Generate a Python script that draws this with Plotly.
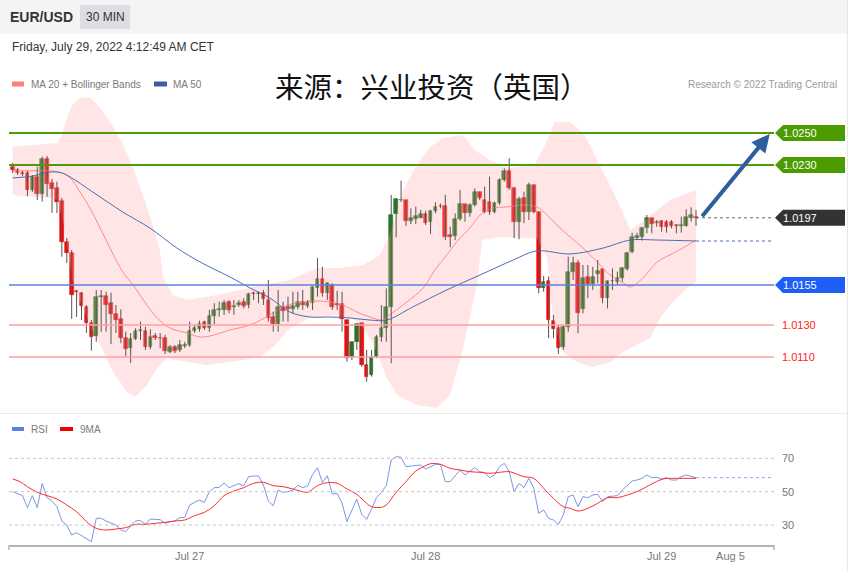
import plotly.graph_objects as go

# ---------------- data ----------------
OPEN = [1.02289,1.02269,1.02252,1.02252,1.02144,1.02227,1.02119,1.02338,1.02188,1.02156,
        1.02077,1.01821,1.01750,1.01513,1.01502,1.01414,1.01311,1.01231,1.01477,1.01481,
        1.01436,1.01369,1.01336,1.01217,1.01156,1.01213,1.01264,1.01264,1.01163,1.01231,
        1.01219,1.01219,1.01131,1.01163,1.01144,1.01169,1.01175,1.01263,1.01275,1.01320,
        1.01279,1.01356,1.01394,1.01394,1.01442,1.01414,1.01425,1.01446,1.01425,1.01498,
        1.01494,1.01502,1.01456,1.01348,1.01306,1.01411,1.01414,1.01398,1.01414,1.01446,
        1.01419,1.01436,1.01529,1.01588,1.01500,1.01550,1.01431,1.01431,1.01331,1.01102,
        1.01196,1.01311,1.01050,1.00988,1.01102,1.01223,1.01279,1.01414,1.01994,1.02081,
        1.02081,1.01952,1.01963,1.01967,1.01994,1.01946,1.02014,1.02044,1.02044,1.01863,
        1.01856,1.01961,1.02056,1.01998,1.02050,1.02130,1.02081,1.02071,1.02008,1.02060,
        1.02206,1.02264,1.02154,1.01946,1.02092,1.02008,1.02175,1.02008,1.01529,1.01575,
        1.01327,1.01279,1.01165,1.01290,1.01633,1.01686,1.01398,1.01598,1.01556,1.01619,
        1.01648,1.01467,1.01575,1.01571,1.01592,1.01648,1.01758,1.01842,1.01848,1.01904,
        1.01967,1.01938,1.01952,1.01946,1.01946,1.01925,1.01919,1.01919,1.01967,1.01973]
HIGH = [1.02313,1.02281,1.02263,1.02263,1.02238,1.02289,1.02352,1.02356,1.02213,1.02196,
        1.02094,1.01844,1.01769,1.01519,1.01506,1.01425,1.01331,1.01519,1.01519,1.01508,
        1.01502,1.01425,1.01398,1.01258,1.01250,1.01280,1.01321,1.01289,1.01273,1.01250,
        1.01250,1.01238,1.01175,1.01175,1.01206,1.01194,1.01321,1.01300,1.01327,1.01327,
        1.01394,1.01436,1.01446,1.01456,1.01456,1.01456,1.01456,1.01467,1.01502,1.01508,
        1.01508,1.01519,1.01581,1.01383,1.01519,1.01446,1.01477,1.01508,1.01508,1.01519,
        1.01456,1.01540,1.01719,1.01664,1.01565,1.01561,1.01514,1.01508,1.01331,1.01196,
        1.01311,1.01311,1.01144,1.01144,1.01238,1.01425,1.01529,1.02113,1.02092,1.02202,
        1.02081,1.02029,1.02040,1.02019,1.02014,1.02019,1.02067,1.02060,1.02113,1.01914,
        1.01998,1.02144,1.02056,1.02060,1.02154,1.02133,1.02165,1.02227,1.02071,1.02217,
        1.02279,1.02342,1.02160,1.02102,1.02133,1.02190,1.02175,1.02008,1.01606,1.01602,
        1.01363,1.01300,1.01300,1.01727,1.01727,1.01706,1.01675,1.01675,1.01664,1.01706,
        1.01648,1.01577,1.01654,1.01633,1.01661,1.01758,1.01877,1.01877,1.01914,1.01988,
        1.01967,1.01956,1.01956,1.01956,1.01956,1.01931,1.01977,1.02023,1.02036,1.02019]
LOW = [1.02250,1.02238,1.02231,1.02106,1.02131,1.02081,1.02071,1.02102,1.02000,1.02000,
       1.01727,1.01688,1.01338,1.01350,1.01331,1.01250,1.01140,1.01196,1.01258,1.01258,
       1.01181,1.01250,1.01186,1.01106,1.01063,1.01206,1.01206,1.01144,1.01148,1.01206,
       1.01154,1.01119,1.01125,1.01125,1.01131,1.01156,1.01164,1.01250,1.01258,1.01269,
       1.01258,1.01306,1.01352,1.01363,1.01373,1.01363,1.01413,1.01404,1.01404,1.01456,
       1.01436,1.01425,1.01321,1.01258,1.01258,1.01321,1.01321,1.01373,1.01398,1.01394,
       1.01406,1.01394,1.01477,1.01477,1.01456,1.01394,1.01394,1.01258,1.01071,1.01081,
       1.01144,1.01039,1.00946,1.00977,1.01092,1.01196,1.01196,1.01061,1.01848,1.02069,
       1.01919,1.01931,1.01931,1.01967,1.01925,1.01869,1.01998,1.02029,1.01831,1.01786,
       1.01831,1.01952,1.01946,1.01977,1.02040,1.02081,1.01998,1.01988,1.01998,1.02050,
       1.02196,1.02144,1.01842,1.01836,1.01936,1.01956,1.01998,1.01498,1.01508,1.01217,
       1.01217,1.01119,1.01144,1.01258,1.01581,1.01248,1.01373,1.01467,1.01519,1.01561,
       1.01436,1.01404,1.01519,1.01550,1.01571,1.01639,1.01748,1.01831,1.01827,1.01873,
       1.01873,1.01914,1.01883,1.01877,1.01904,1.01873,1.01877,1.01914,1.01946,1.01919]
CLOSE = [1.02269,1.02250,1.02244,1.02144,1.02227,1.02119,1.02338,1.02181,1.02150,1.02069,
         1.01821,1.01750,1.01488,1.01506,1.01419,1.01311,1.01227,1.01477,1.01483,1.01425,
         1.01367,1.01331,1.01217,1.01148,1.01213,1.01263,1.01267,1.01164,1.01225,1.01219,
         1.01216,1.01140,1.01163,1.01140,1.01175,1.01175,1.01263,1.01283,1.01306,1.01279,
         1.01356,1.01394,1.01397,1.01436,1.01394,1.01417,1.01440,1.01419,1.01494,1.01494,
         1.01502,1.01461,1.01342,1.01306,1.01411,1.01390,1.01398,1.01419,1.01446,1.01425,
         1.01440,1.01536,1.01588,1.01502,1.01561,1.01414,1.01428,1.01336,1.01092,1.01196,
         1.01304,1.01050,1.00977,1.01102,1.01227,1.01279,1.01414,1.01988,1.02086,1.02084,
         1.01952,1.01967,1.01983,1.01994,1.01936,1.02014,1.02036,1.02041,1.01848,1.01852,
         1.01961,1.02056,1.01998,1.02050,1.02130,1.02092,1.02008,1.02008,1.02060,1.02206,
         1.02264,1.02154,1.01946,1.02086,1.02008,1.02175,1.02008,1.01529,1.01571,1.01331,
         1.01273,1.01154,1.01290,1.01633,1.01686,1.01373,1.01592,1.01556,1.01598,1.01640,
         1.01467,1.01575,1.01572,1.01592,1.01654,1.01752,1.01848,1.01856,1.01904,1.01967,
         1.01931,1.01941,1.01914,1.01914,1.01919,1.01919,1.01922,1.01977,1.01988,1.01970]

BB_UP_X = [0, 5.6, 9.2, 10.0, 11.0, 12.1, 13.7, 15.7, 17.8, 19.8, 22.2, 24.5, 26.5, 28.5, 30.0,
           30.6, 32.6, 35.5, 38.1, 41.6, 44.2, 50.9, 56.4, 61.9, 66.6, 71.3, 74.7, 76.7, 79.4,
           82.2, 84.9, 87.5, 91.6, 94.0, 97.1, 101.2, 106.2, 108.3, 110.3, 113.4, 116.4, 119.5,
           122.5, 125.6, 128.6, 133.7, 139]
BB_UP = [1.02414, 1.02431, 1.02438, 1.02488, 1.02594, 1.02675, 1.02719, 1.02725, 1.02656, 1.02569,
         1.02444, 1.02281, 1.02113, 1.01925, 1.01756, 1.01594, 1.01488, 1.01456, 1.01469, 1.01488,
         1.01506, 1.01550, 1.01581, 1.01656, 1.01656, 1.01675, 1.01738, 1.01863, 1.02144, 1.02300,
         1.02413, 1.02469, 1.02488, 1.02394, 1.02331, 1.02281, 1.02300, 1.02425, 1.02569, 1.02569,
         1.02488, 1.02300, 1.02113, 1.01894, 1.01956, 1.02081, 1.02144]
BB_LO_X = [0, 4.1, 7.6, 9.2, 10.6, 12.3, 15.1, 17.8, 20.4, 23.3, 24.9, 27.3, 29.4, 31.4, 35.5,
           39.5, 44.2, 50.3, 53.4, 56.4, 60.5, 65.6, 69.6, 71.7, 74.1, 76.1, 78.2, 82.2, 86.3,
           88.9, 91.0, 93.0, 94.4, 95.5, 99.1, 106.6, 108.7, 109.9, 111.9, 114.8, 118.0, 121.5,
           124.2, 127.0, 129.7, 131.7, 134.3, 137.2, 139]
BB_LO = [1.02113, 1.02100, 1.02094, 1.02081, 1.01894, 1.01550, 1.01344, 1.01175, 1.01006, 1.00881,
         1.00850, 1.00925, 1.01031, 1.01094, 1.01069, 1.01050, 1.01069, 1.01100, 1.01175, 1.01281,
         1.01344, 1.01363, 1.01331, 1.01269, 1.01131, 1.00969, 1.00863, 1.00800, 1.00781, 1.00863,
         1.01081, 1.01344, 1.01550, 1.01831, 1.01850, 1.01844, 1.01719, 1.01344, 1.01131, 1.01069,
         1.01038, 1.01069, 1.01131, 1.01175, 1.01219, 1.01344, 1.01444, 1.01531, 1.01569]
MA20_X = [0, 7.6, 9.6, 11.7, 13.7, 15.7, 17.8, 19.8, 22.4, 24.5, 27.3, 29.4, 32.0, 35.5, 38.1,
          40.1, 44.2, 48.3, 52.3, 55.0, 57.8, 61.9, 64.5, 67.2, 70.0, 72.7, 75.3, 76.7, 80.2,
          83.5, 85.9, 88.3, 91.0, 93.0, 95.1, 97.7, 100.6, 103.8, 106.6, 108.7, 110.7, 113.4,
          116.0, 118.9, 121.5, 124.2, 125.6, 128.2, 131.1, 133.7, 136.3, 139]
MA20 = [1.02263, 1.02263, 1.02256, 1.02219, 1.02131, 1.02031, 1.01906, 1.01781, 1.01631, 1.01550,
        1.01425, 1.01344, 1.01281, 1.01250, 1.01225, 1.01231, 1.01269, 1.01300, 1.01363, 1.01413,
        1.01438, 1.01450, 1.01444, 1.01425, 1.01381, 1.01350, 1.01331, 1.01363, 1.01444, 1.01531,
        1.01644, 1.01738, 1.01844, 1.01906, 1.01988, 1.02031, 1.02038, 1.02050, 1.02038, 1.01988,
        1.01925, 1.01850, 1.01781, 1.01694, 1.01613, 1.01563, 1.01538, 1.01594, 1.01694, 1.01738,
        1.01781, 1.01831]
MA50_X = [0, 4.1, 7.6, 10.0, 11.7, 16.3, 22.4, 27.9, 33.4, 38.1, 44.2, 48.3, 52.3, 56.4, 60.5,
          64.5, 68.6, 72.7, 76.1, 81.4, 88.3, 95.1, 101.8, 106.6, 113.4, 120.1, 125.6, 131.1, 139]
MA50 = [1.02219, 1.02231, 1.02256, 1.02250, 1.02225, 1.02131, 1.02006, 1.01906, 1.01781, 1.01694,
        1.01600, 1.01531, 1.01469, 1.01381, 1.01350, 1.01350, 1.01344, 1.01331, 1.01331, 1.01413,
        1.01519, 1.01613, 1.01706, 1.01763, 1.01744, 1.01781, 1.01831, 1.01831, 1.01825]

RSI = [50, 48.6, 47.6, 40.4, 47.6, 40.4, 55, 46.4, 44.4, 41,
       32.4, 30, 24, 25.4, 23.6, 21.6, 20, 34, 34, 32.4,
       31, 30, 27, 26, 29.6, 32.4, 32.8, 30.4, 33.6, 33.4,
       33.2, 31, 32, 32.4, 34.4, 34.6, 42, 43.6, 45, 43.6,
       50, 52.4, 52.6, 55.2, 52.4, 53.6, 54.8, 53.6, 59, 59.4,
       59.4, 54, 44.4, 41.6, 51, 49.6, 50, 51, 53.8, 52.4,
       53.4, 60.4, 64.4, 55.4, 59.6, 48.6, 49, 43, 32, 39,
       45.4, 36.4, 33.4, 39.6, 46.4, 49.6, 53.6, 69, 71, 70.6,
       65, 65.4, 65.6, 66, 63.6, 65, 66.4, 66.4, 56, 56,
       59.6, 63, 60, 62.4, 64.4, 62, 61.4, 58.4, 60, 65,
       67, 62, 50, 55, 52.4, 58, 52, 37, 39, 34,
       33, 30.4, 36, 47, 48, 41, 47, 46.4, 48, 48.4,
       44, 47, 47.4, 47.6, 51, 54, 56.4, 57, 58, 60,
       58.4, 58.6, 57.6, 58.4, 57, 57, 59, 60, 59.4, 58.4]
RSI_MA_X = [0, 1.5, 3, 5, 7, 9, 11, 13, 15, 17, 19, 21, 23, 25, 27, 29, 31, 33, 35, 37, 39, 41,
            43, 45, 47, 49, 51, 53, 55, 57, 59, 60, 62, 64, 66, 68, 70, 72, 73, 75, 76, 78, 80,
            82, 84, 85, 87, 89, 91, 93, 95, 97, 99, 101, 103, 104, 106, 108, 110, 112, 113.4,
            115, 117, 119, 121, 123, 125, 127.3, 129.6, 132.3, 134.4, 136.4, 139]
RSI_MA = [57.6, 56, 53, 49.6, 47.6, 45.6, 42, 38, 32, 28, 27, 27.6, 28.4, 30.4, 30.4, 31, 31.6,
          32.4, 33, 35.6, 37.6, 41.6, 47.6, 50.4, 52.4, 55, 55.6, 53.6, 53, 51.6, 50, 49.6, 53.6,
          55.4, 55, 51.6, 48.4, 43, 41, 40.6, 42, 49.6, 56, 62.4, 65.6, 66.8, 66.4, 64, 63, 62,
          61.6, 61, 61.6, 62, 60, 59, 58, 52, 46, 41, 40, 38.4, 40, 43, 46.4, 46.4, 48, 50.4, 54,
          57.6, 58, 58, 58]

LEVELS_GREEN = [1.0250, 1.0230]
LEVEL_LAST = 1.0197
LEVEL_BLUE = 1.0155
LEVELS_RED = [1.0130, 1.0110]
RSI_LEVELS = [70, 50, 30]
TICK_POS = [36, 84, 132, 146]
TICK_TEXT = ["Jul 27", "Jul 28", "Jul 29", "Aug 5"]
ARROW_TARGET_X = 154.0

# ---------------- geometry helpers ----------------
W, H = 863, 571
PL, PR = 9, 774
XR = [-0.75, 154.86]
PRANGE = [1.0075, 1.027375]
RRANGE = [18, 81]


def xp(px):
    return (px - PL) / (PR - PL)


def yp(py):
    return 1 - py / H


FONT = "Liberation Sans, Arial, sans-serif"
GREEN_C = "#1e7d1e"
RED_C = "#ff0000"

n = len(CLOSE)
idx = list(range(n))

fig = go.Figure()

# Bollinger band fill
fig.add_trace(go.Scatter(
    x=BB_UP_X + BB_LO_X[::-1], y=BB_UP + BB_LO[::-1], fill="toself",
    fillcolor="rgba(255,175,175,0.32)", line=dict(width=0), mode="lines",
    hoverinfo="skip", xaxis="x", yaxis="y"))
fig.add_trace(go.Scatter(x=MA20_X, y=MA20, mode="lines", line=dict(color="#ff8a8a", width=1),
                         line_shape="spline", xaxis="x", yaxis="y"))
fig.add_trace(go.Scatter(x=MA50_X, y=MA50, mode="lines", line=dict(color="#4a6fb5", width=1),
                         line_shape="spline", xaxis="x", yaxis="y"))

# wicks
wx, wy = [], []
for i in idx:
    wx += [i, i, None]
    wy += [LOW[i], HIGH[i], None]
fig.add_trace(go.Scatter(x=wx, y=wy, mode="lines", line=dict(color="#555555", width=1),
                         xaxis="x", yaxis="y"))

# bodies
cols = [GREEN_C if CLOSE[i] >= OPEN[i] else RED_C for i in idx]
fig.add_trace(go.Bar(
    x=idx, base=[min(OPEN[i], CLOSE[i]) for i in idx],
    y=[abs(CLOSE[i] - OPEN[i]) for i in idx], width=0.74,
    marker=dict(color=cols, line=dict(color=cols, width=0.6)),
    xaxis="x", yaxis="y"))

# RSI panel
fig.add_trace(go.Scatter(x=idx, y=RSI, mode="lines", line=dict(color="#7b96e6", width=1),
                         xaxis="x2", yaxis="y2"))
fig.add_trace(go.Scatter(x=RSI_MA_X, y=RSI_MA, mode="lines", line=dict(color="#ff2a2a", width=1),
                         line_shape="spline", xaxis="x2", yaxis="y2"))

shapes, ann = [], []

# header
shapes.append(dict(type="rect", xref="paper", yref="paper", x0=xp(0), x1=xp(848), y0=yp(34), y1=yp(0),
                   fillcolor="#f4f4f4", line=dict(width=0), layer="below"))
shapes.append(dict(type="rect", xref="paper", yref="paper", x0=xp(80), x1=xp(130), y0=yp(29), y1=yp(5),
                   fillcolor="#dcdee4", line=dict(width=0), layer="below"))
shapes.append(dict(type="line", xref="paper", yref="paper", x0=xp(847.5), x1=xp(847.5), y0=0, y1=1,
                   line=dict(color="#e8e8e8", width=1)))
shapes.append(dict(type="line", xref="paper", yref="paper", x0=xp(0), x1=xp(847), y0=yp(413.5), y1=yp(413.5),
                   line=dict(color="#ececec", width=1)))
ann.append(dict(xref="paper", yref="paper", x=xp(8), y=yp(17), text="<b>EUR/USD</b>", showarrow=False,
                xanchor="left", yanchor="middle", font=dict(size=14, color="#333")))
ann.append(dict(xref="paper", yref="paper", x=xp(105), y=yp(17), text="30 MIN", showarrow=False,
                xanchor="center", yanchor="middle", font=dict(size=12, color="#333")))
ann.append(dict(xref="paper", yref="paper", x=xp(10), y=yp(47), text="Friday, July 29, 2022 4:12:49 AM CET",
                showarrow=False, xanchor="left", yanchor="middle", font=dict(size=12, color="#333")))

# legends
shapes.append(dict(type="rect", xref="paper", yref="paper", x0=xp(12), x1=xp(24), y0=yp(86.5), y1=yp(81.5),
                   fillcolor="#ff7f7f", line=dict(width=0)))
ann.append(dict(xref="paper", yref="paper", x=xp(29), y=yp(84), text="MA 20 + Bollinger Bands", showarrow=False,
                xanchor="left", yanchor="middle", font=dict(size=10, color="#7a7a7a")))
shapes.append(dict(type="rect", xref="paper", yref="paper", x0=xp(154), x1=xp(167), y0=yp(86.5), y1=yp(81.5),
                   fillcolor="#3b5ea6", line=dict(width=0)))
ann.append(dict(xref="paper", yref="paper", x=xp(171), y=yp(84), text="MA 50", showarrow=False,
                xanchor="left", yanchor="middle", font=dict(size=10, color="#7a7a7a")))
shapes.append(dict(type="rect", xref="paper", yref="paper", x0=xp(12), x1=xp(24), y0=yp(431), y1=yp(427),
                   fillcolor="#5b7fe0", line=dict(width=0)))
ann.append(dict(xref="paper", yref="paper", x=xp(29), y=yp(429), text="RSI", showarrow=False,
                xanchor="left", yanchor="middle", font=dict(size=10, color="#7a7a7a")))
shapes.append(dict(type="rect", xref="paper", yref="paper", x0=xp(60), x1=xp(73), y0=yp(431), y1=yp(427),
                   fillcolor="#ee0000", line=dict(width=0)))
ann.append(dict(xref="paper", yref="paper", x=xp(78), y=yp(429), text="9MA", showarrow=False,
                xanchor="left", yanchor="middle", font=dict(size=10, color="#7a7a7a")))

ann.append(dict(xref="paper", yref="paper", x=xp(432), y=yp(86), text="来源：兴业投资（英国）", showarrow=False,
                xanchor="center", yanchor="middle",
                font=dict(size=28.5, color="#111", family="Noto Sans CJK SC")))
ann.append(dict(xref="paper", yref="paper", x=xp(839), y=yp(84), text="Research © 2022 Trading Central",
                showarrow=False, xanchor="right", yanchor="middle", font=dict(size=10, color="#9a9a9a")))


def tag(price, color, label):
    h = 0.0005
    path = (f"M {xp(775)},{price} L {xp(783)},{price + h} L {xp(845)},{price + h} "
            f"L {xp(845)},{price - h} L {xp(783)},{price - h} Z")
    shapes.append(dict(type="path", xref="paper", yref="y", path=path, fillcolor=color, line=dict(width=0)))
    ann.append(dict(xref="paper", yref="y", x=xp(781), y=price, text=label, showarrow=False,
                    xanchor="left", yanchor="middle", font=dict(color="white", size=11)))


for lv in LEVELS_GREEN:
    shapes.append(dict(type="line", xref="paper", yref="y", x0=0, x1=1, y0=lv, y1=lv,
                       line=dict(color="#4f9a0a", width=2)))
    tag(lv, "#4a9c00", f"{lv:.4f}")

shapes.append(dict(type="line", xref="paper", yref="y", x0=0, x1=1, y0=LEVEL_BLUE, y1=LEVEL_BLUE,
                   line=dict(color="#5b82e0", width=1.5)))
tag(LEVEL_BLUE, "#1d5ef5", f"{LEVEL_BLUE:.4f}")

for lv in LEVELS_RED:
    shapes.append(dict(type="line", xref="paper", yref="y", x0=0, x1=1, y0=lv, y1=lv,
                       line=dict(color="#ff9f9f", width=1.5)))
    ann.append(dict(xref="paper", yref="y", x=xp(780), y=lv, text=f"{lv:.4f}", showarrow=False,
                    xanchor="left", yanchor="middle", font=dict(color="#ff2222", size=11)))

shapes.append(dict(type="line", xref="x", yref="y", x0=n - 1, x1=XR[1], y0=CLOSE[-1], y1=CLOSE[-1],
                   line=dict(color="#666", width=1, dash="dot")))
tag(LEVEL_LAST, "#333333", f"{LEVEL_LAST:.4f}")
shapes.append(dict(type="line", xref="x", yref="y", x0=MA50_X[-1], x1=XR[1], y0=MA50[-1], y1=MA50[-1],
                   line=dict(color="#4a6fb5", width=1, dash="dot")))

# RSI levels
for lv in RSI_LEVELS:
    shapes.append(dict(type="line", xref="paper", yref="y2", x0=0, x1=1, y0=lv, y1=lv,
                       line=dict(color="#c4c4c4", width=1, dash="dot")))
    ann.append(dict(xref="paper", yref="y2", x=xp(780), y=lv, text=str(lv), showarrow=False,
                    xanchor="left", yanchor="middle", font=dict(color="#777", size=11)))
shapes.append(dict(type="line", xref="x2", yref="y2", x0=n - 1, x1=XR[1], y0=RSI[-1], y1=RSI[-1],
                   line=dict(color="#8ea6ee", width=1, dash="dot")))
for px in (PL, PR):
    shapes.append(dict(type="line", xref="paper", yref="paper", x0=xp(px), x1=xp(px), y0=yp(550), y1=yp(545),
                       line=dict(color="#b3b3b3", width=1.5)))

# arrow
ann.append(dict(x=ARROW_TARGET_X, y=LEVELS_GREEN[0] - 0.00006, xref="x", yref="y",
                ax=n + 0.0, ay=CLOSE[-1], axref="x", ayref="y", text="", showarrow=True,
                arrowhead=2, arrowsize=0.9, arrowwidth=4, arrowcolor="#2e5e9e", standoff=0, startstandoff=0))

fig.update_layout(
    width=W, height=H, margin=dict(l=PL, r=W - PR, t=0, b=0),
    paper_bgcolor="white", plot_bgcolor="white", showlegend=False,
    font=dict(family=FONT, color="#333"),
    xaxis=dict(domain=[0, 1], range=XR, visible=False, anchor="y"),
    yaxis=dict(domain=[yp(413), yp(95)], range=PRANGE, visible=False, anchor="x"),
    xaxis2=dict(domain=[0, 1], range=XR, anchor="y2", showline=True, linecolor="#b3b3b3", linewidth=2,
                tickvals=TICK_POS, ticktext=TICK_TEXT, tickfont=dict(size=11, color="#777"),
                showgrid=False, zeroline=False, ticks=""),
    yaxis2=dict(domain=[yp(545), yp(440)], range=RRANGE, visible=False, anchor="x2"),
    shapes=shapes, annotations=ann, bargap=0,
)

fig.write_html("out.html", config={"displayModeBar": False},
               post_script="document.body.style.margin='0';document.body.style.overflow='hidden';")
